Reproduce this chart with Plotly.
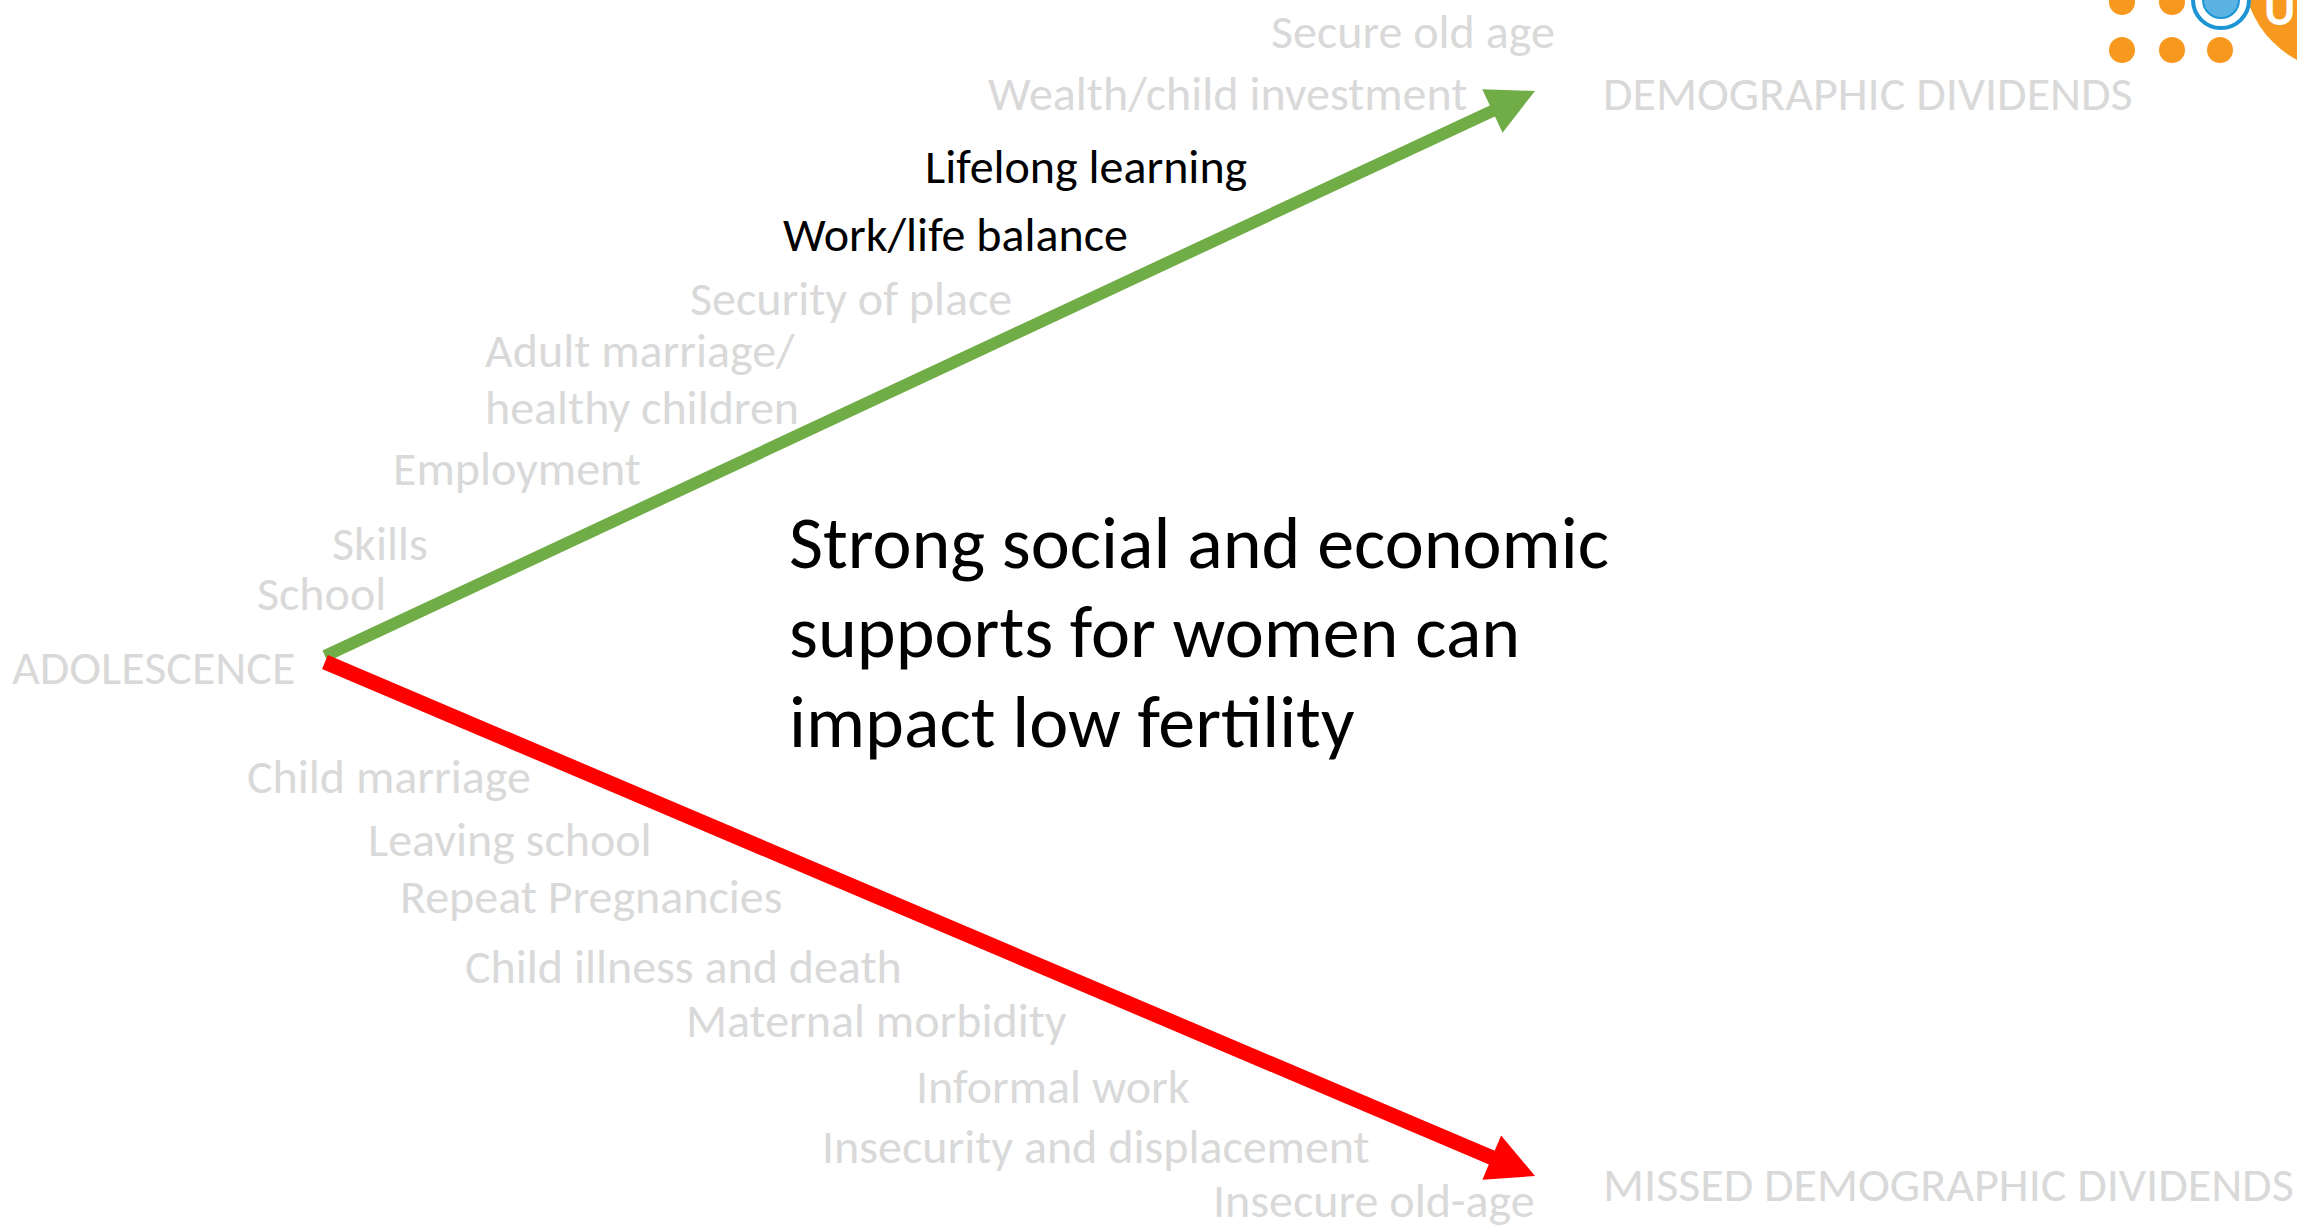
import numpy as np
import plotly.graph_objects as go

W, H = 2297, 1231

# ---- text content ----
upper_labels = ["Secure old age", "Wealth/child investment", "Lifelong learning",
                "Work/life balance", "Security of place", "Adult marriage/",
                "healthy children", "Employment", "Skills", "School"]
upper_highlight = [False, False, True, True, False, False, False, False, False, False]
lower_labels = ["Child marriage", "Leaving school", "Repeat Pregnancies",
                "Child illness and death", "Maternal morbidity", "Informal work",
                "Insecurity and displacement", "Insecure old-age"]
start_label = "ADOLESCENCE"
good_outcome = "DEMOGRAPHIC DIVIDENDS"
bad_outcome = "MISSED DEMOGRAPHIC DIVIDENDS"
message_lines = ["Strong social and economic", "supports for women can", "impact low fertility"]

# ---- layout (positions in page pixels) ----
upper_pos = [(1269, 31), (986, 93), (923, 166), (781, 234), (688, 298),
             (483, 350), (483, 407), (391, 468), (330, 543), (255, 593)]
lower_pos = [(245, 776), (366, 839), (398, 896), (463, 966), (684, 1020),
             (914, 1086), (820, 1146), (1211, 1200)]
start_pos = (10, 667)
good_pos = (1601, 93)
bad_pos = (1601, 1184)
message_pos = (787, [543, 632, 722])

arrow_good = ((325, 656), (1535, 91))
arrow_bad = ((325, 662), (1535, 1176))

GRAY = "#d9d9d9"
GREEN = "#70ad47"
RED = "#ff0000"
ORANGE = "#f7991f"
FONT = "Carlito, Lato, 'Noto Sans', sans-serif"
LBL_SIZE = 48
MSG_SIZE = 74

fig = go.Figure()


def add_arrow(p0, p1, color, width, head_len=47, head_w=48):
    p0 = np.array(p0, float)
    p1 = np.array(p1, float)
    u = (p1 - p0) / np.linalg.norm(p1 - p0)
    n = np.array([-u[1], u[0]])
    base = p1 - head_len * u
    line_end = base + 4 * u
    fig.add_trace(go.Scatter(x=[p0[0], line_end[0]], y=[p0[1], line_end[1]], mode="lines",
                             line=dict(color=color, width=width), hoverinfo="skip",
                             showlegend=False))
    c1 = base + n * head_w / 2
    c2 = base - n * head_w / 2
    fig.add_trace(go.Scatter(x=[p1[0], c1[0], c2[0], p1[0]], y=[p1[1], c1[1], c2[1], p1[1]],
                             mode="lines", fill="toself", fillcolor=color,
                             line=dict(color=color, width=0), hoverinfo="skip",
                             showlegend=False))


add_arrow(*arrow_good, GREEN, 12)
add_arrow(*arrow_bad, RED, 15)

annotations = []


def label(text, x, y, color=GRAY, size=LBL_SIZE):
    annotations.append(dict(text=text, x=x, y=y, xref="x", yref="y", xanchor="left",
                            yanchor="middle", showarrow=False,
                            font=dict(family=FONT, size=size, color=color)))


for t, hl, (x, y) in zip(upper_labels, upper_highlight, upper_pos):
    label(t, x, y, "#000000" if hl else GRAY)
for t, (x, y) in zip(lower_labels, lower_pos):
    label(t, x, y)
label(start_label, *start_pos)
label(good_outcome, *good_pos)
label(bad_outcome, *bad_pos)
for t, y in zip(message_lines, message_pos[1]):
    label(t, message_pos[0], y, "#000000", MSG_SIZE)

# logo (top-right corner)
shapes = []
for cx, cy in [(2122, 2), (2172, 2), (2122, 50), (2172, 50), (2220, 50)]:
    shapes.append(dict(type="circle", xref="x", yref="y", x0=cx - 13, x1=cx + 13,
                       y0=cy - 13, y1=cy + 13, fillcolor=ORANGE, line=dict(width=0)))
shapes.append(dict(type="circle", xref="x", yref="y", x0=2345 - 102, x1=2345 + 102,
                   y0=-30 - 102, y1=-30 + 102, fillcolor=ORANGE, line=dict(width=0)))
shapes.append(dict(type="circle", xref="x", yref="y", x0=2193, x1=2249, y0=-28, y1=28,
                   fillcolor="#ffffff", line=dict(color="#1b95d4", width=4)))
shapes.append(dict(type="circle", xref="x", yref="y", x0=2203, x1=2239, y0=-18, y1=18,
                   fillcolor="#5ab3e3", line=dict(color="#1b95d4", width=2)))
annotations.append(dict(text="<b>UN</b>", x=2262, y=8, xref="x", yref="y", xanchor="left",
                        yanchor="middle", showarrow=False,
                        font=dict(family=FONT, size=48, color="#ffffff")))

fig.update_layout(
    width=W, height=H, margin=dict(l=0, r=0, t=0, b=0),
    paper_bgcolor="#ffffff", plot_bgcolor="#ffffff",
    xaxis=dict(range=[0, W], visible=False, fixedrange=True),
    yaxis=dict(range=[H, 0], visible=False, fixedrange=True),
    annotations=annotations, shapes=shapes, showlegend=False,
)

fig.write_html("out.html", config={"displayModeBar": False},
               post_script="document.body.style.margin='0';document.body.style.overflow='hidden';")
